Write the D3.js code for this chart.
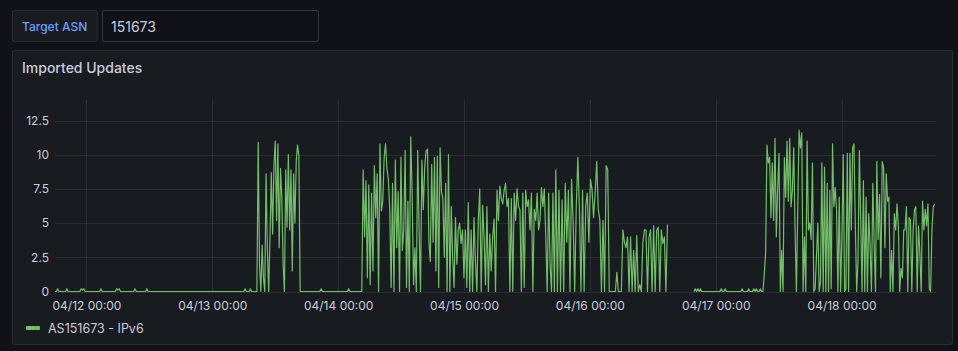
<!DOCTYPE html>
<html>
<head>
<meta charset="utf-8">
<script src="https://cdn.jsdelivr.net/npm/d3@7"></script>
<style>
  body { margin: 0; background: #111217; }
  svg { display: block; font-family: Inter, "Noto Sans", sans-serif; }
</style>
</head>
<body>
<div id="chart"></div>
<script>
// values, grouped by quiet / active stretches
const quietA = [
  0,0,0.2,0,0,0,0,0,0,0.2, 0,0,0,0,0,0,0,0,0,0,
  0.2,0.1,0.2,0,0,0,0,0,0,0, 0,0,0,0,0,0.2,0,0,0,0,
  0,0,0,0,0,0,0,0.2,0.1,0.2, 0,0,0,0,0,0,0,0,0,0,
  0,0.2,0,0,0,0,0,0,0,0, 0.2,0,0,0,0,0,0,0,0,0,
  0,0,0,0,0,0,0,0,0,0, 0,0,0,0,0,0,0,0,0,0,
  0,0,0,0,0,0,0,0,0,0, 0,0,0,0,0,0,0,0,0,0,
  0,0,0,0,0,0,0,0,0,0, 0,0,0,0,0,0,0,0,0,0,
  0,0,0,0,0,0.2,0,0,0,0.2, 0,0,0,0
];
const burstA = [0,10.9,2,0,3.4,1,0,8.6,3,0,4,8.7,4.2,9.2,11.0,5.2,10.8,3.2,9.0,6.9,
  2,0,8.9,4.7,10.0,4.5,8.9,1.5,8.6,5,9.5,10.7,9.9,0];
const quietB = [
  0,0,0,0,0,0,0,0,0,0, 0,0,0,0,0,0.2,0,0,0,0,
  0,0,0,0,0,0,0,0,0,0, 0,0,0,0,0,0,0.2,0,0,0,
  0,0,0,0,0,0
];
const burstB1 = [0,8.9,4.0,8.1,1.0,7.8,0.5,7.2,1.5,9.2,5.4,8.6,0,10.8,5.9,6.6,9.8,10.8,9.0,8.2,
  6.0,0.3,7.9,0,9.6,3.2,7.3,0,9.8,3.0,4.5,10.3,0.3,6.6,0,11.3,7.3,0.5,3.2,0,
  10.3,4.5,0,9.6,6.0,9.1,10.3,10.4,3.6,2.2,9.3,3.6,9.8,1.5,9.9,0.3,10.5,7.3,6.8,2.5,
  7.9,0,10.0,0,6.2,2.5,0.3,5.4,2.0,4.5];
const burstB2 = [5.0,3.5,4.5,1,4.5,0.3,6.5,0,4.5,0,5.4,2.2,0,5.2,7.5,0,6.3,4,0.5,6.2,
  0,4.2,1.5,4.0,5.3,0,7.4,5.2,7.7,6.8,6.4,7.4,7.9,6.2,6.8,0,6.8,0,7.2,5.2,
  7.5,6.2,6.0,0,7.2,0.3,7.4,6.2,6.7,4.5,7.2,0,6.0,5.2,7.2,4.5,5.2,7.6,6.2,7.5,
  4,0,7.2,2,0,7.2,0];
const burstB3 = [8.9,0,7.4,0,6.7,0,7.9,3.6,7.4,0,8.2,5.2,0,6.2,9.8,6,0,7.4,0,6.2,
  7.2,3.6,8.2,7.5,5.4,7.2,9.5,6,5.2,0,5.2,0,9.2,8.9,0];
const lullC = [0,0,0,0,1.4,0,0];
const burstC = [0,4.5,3.6,3.2,4.0,0,4.0,0,3.0,0,4.1,0,0.5,0,3.6,4.5,4.5,0,4.0,4.5,
  0,4.8,0,4.5,4.7,0,4.5,3.5,4.0,0,4.9];
const gap = [null];
const quietD = [
  0,0.2,0,0.2,0,0.2,0,0,0,0, 0,0,0,0,0,0,0,0,0,0,
  0,0.2,0,0,0.2,0,0,0,0,0, 0,0,0,0,0,0,0,0.2,0,0,
  0,0,0.2,0,0,0,0.2,0,0.2,0, 0,0.2,0
];
const burstD1 = [0,1.3,2.8,10.7,9.4,9.8,5.4,9.4,5.2,11.2,4.0,7.6,10.1,0,3.0,0,9.8,6.9,11.0,6.6,
  11.2,6.2,7.4,10.5,4.6,0,6,11.8,10.5,11.6,0,4,0,11.0,4.5,5.0,3.8,9.4,0,0.2,
  2.6,5.0,0,0.7,9.4,0,9.1,0,7.9,0,7.4,0.2,10.8,6.2,7.6,6.0,0,6.9,0,4.0,
  10.0,0,0.2,10.1];
const burstD2 = [0,10.1,4.5,10.5,10.8,4.8,0,2.2,10.3,5.2,0,8.1,0,6.9,0,5.7,3.2,0,7.9,3.5,
  0,9.5,3.8,7.1,1,9.5,9.1,3.2,8.6,6.6,6.9,0,3,0,5.7,4.5,6.4,4.8,0,1.7,
  1,4.5,4.5,6.2,0,5.4,5.2,0,4.5,6.0,6.2,0,4.8,2.8,0,6.6,4.5,6.0,4.8,6.4,
  0.2,0,4.5,6.2,6.4];

const segments = [quietA, burstA, quietB, burstB1, burstB2, burstB3, lullC, burstC, gap, quietD, burstD1, burstD2];
// start time of each segment, last one is the end of the range
const segStarts = ["2023-04-11 18:00", "2023-04-13 08:30", "2023-04-13 17:00", "2023-04-14 04:30",
  "2023-04-14 23:10", "2023-04-15 17:30", "2023-04-16 04:00", "2023-04-16 06:00", "2023-04-16 15:05",
  "2023-04-16 19:50", "2023-04-17 09:00", "2023-04-18 01:20", "2023-04-18 18:00"];
const yTicks = [0, 2.5, 5, 7.5, 10, 12.5];
const seriesName = "AS151673 - IPv6";

const W = 958, H = 351;
const parse = d3.timeParse("%Y-%m-%d %H:%M");
const starts = segStarts.map(parse);

let points = [];
segments.forEach(function(vals, k) {
  let t0 = +starts[k], t1 = +starts[k + 1];
  let step = (t1 - t0) / vals.length;
  vals.forEach(function(v, i) {
    points.push({ t: new Date(t0 + i * step), v: v });
  });
});

let svg = d3.select("#chart").append("svg")
  .attr("width", W)
  .attr("height", H);

// variable bar at top
svg.append("rect")
  .attr("x", 12.5).attr("y", 10.5).attr("width", 85).attr("height", 31).attr("rx", 2)
  .attr("fill", "#181b1f").attr("stroke", "rgba(204,204,220,0.12)");
svg.append("text")
  .attr("x", 22).attr("y", 26).attr("dominant-baseline", "central")
  .attr("font-size", 12).attr("font-weight", 500).attr("fill", "#6e9fff")
  .text("Target ASN");
svg.append("rect")
  .attr("x", 102.5).attr("y", 10.5).attr("width", 216).attr("height", 31).attr("rx", 2)
  .attr("fill", "#111217").attr("stroke", "rgba(204,204,220,0.2)");
svg.append("text")
  .attr("x", 111).attr("y", 26).attr("dominant-baseline", "central")
  .attr("font-size", 14).attr("fill", "#ccccdc")
  .text("151673");

// panel
svg.append("rect")
  .attr("x", 12.5).attr("y", 50.5).attr("width", 940).attr("height", 294).attr("rx", 2)
  .attr("fill", "#181b1f").attr("stroke", "rgba(204,204,220,0.12)");
svg.append("text")
  .attr("x", 22).attr("y", 67).attr("dominant-baseline", "central")
  .attr("font-size", 14).attr("font-weight", 500).attr("fill", "#ccccdc")
  .text("Imported Updates");

let x = d3.scaleTime()
  .domain([starts[0], starts[starts.length - 1]])
  .range([55, 936]);
let y = d3.scaleLinear()
  .domain([0, 14])
  .range([291.5, 100]);

let dayTicks = d3.timeDay.range(d3.timeDay.ceil(starts[0]), starts[starts.length - 1]);

// grid
let grid = svg.append("g").attr("stroke", "rgba(204,204,220,0.1)").attr("stroke-width", 1);
grid.selectAll("line.h").data(yTicks).enter().append("line")
  .attr("x1", 55).attr("x2", 936)
  .attr("y1", d => Math.round(y(d)) + 0.5).attr("y2", d => Math.round(y(d)) + 0.5);
grid.selectAll("line.v").data(dayTicks).enter().append("line")
  .attr("x1", d => Math.round(x(d)) + 0.5).attr("x2", d => Math.round(x(d)) + 0.5)
  .attr("y1", 100).attr("y2", 291.5);

// axes
let xAxis = svg.append("g")
  .attr("transform", "translate(0,296)")
  .call(d3.axisBottom(x).tickValues(dayTicks).tickFormat(d3.timeFormat("%m/%d %H:%M")).tickSize(0));
let yAxis = svg.append("g")
  .attr("transform", "translate(50,0)")
  .call(d3.axisLeft(y).tickValues(yTicks).tickFormat(d3.format("")).tickSize(0));
[xAxis, yAxis].forEach(function(a) {
  a.select(".domain").remove();
  a.selectAll("text")
    .attr("fill", "#ccccdc")
    .attr("font-size", 12)
    .attr("font-family", "Inter, sans-serif");
});
xAxis.selectAll("text").attr("dy", "0.71em").attr("y", 5);
yAxis.selectAll("text").attr("x", -1);

// series
let line = d3.line()
  .defined(d => d.v !== null)
  .x(d => x(d.t))
  .y(d => y(d.v));
svg.append("path")
  .datum(points)
  .attr("d", line)
  .attr("fill", "none")
  .attr("stroke", "#73bf69")
  .attr("stroke-width", 1.2)
  .attr("stroke-linejoin", "round");

// legend
svg.append("rect")
  .attr("x", 26).attr("y", 326).attr("width", 14).attr("height", 4).attr("rx", 1)
  .attr("fill", "#73bf69");
svg.append("text")
  .attr("x", 48).attr("y", 328).attr("dominant-baseline", "central")
  .attr("font-size", 12.5).attr("fill", "#ccccdc")
  .text(seriesName);
</script>
</body>
</html>
